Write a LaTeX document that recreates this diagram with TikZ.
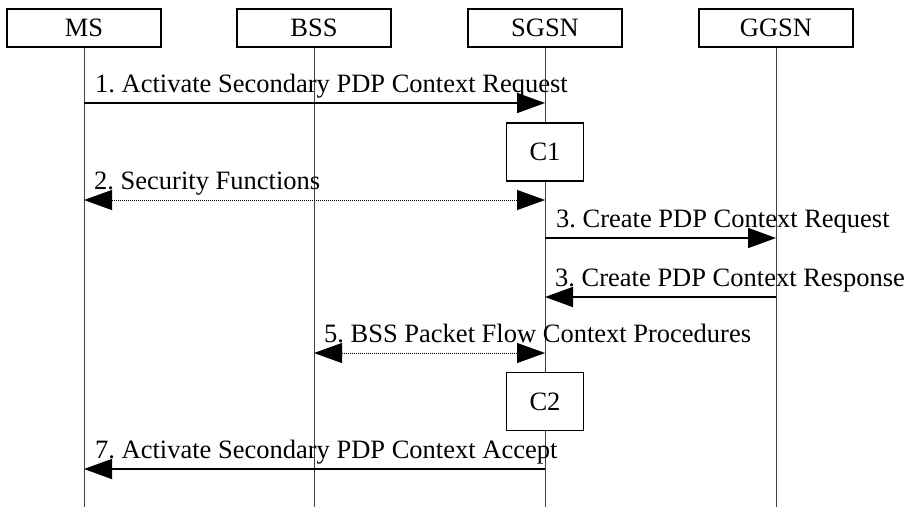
\documentclass[tikz,border=0pt]{standalone}
\usepackage{fontspec}
\setmainfont{Liberation Serif}
\usetikzlibrary{arrows.meta}
\frenchspacing
\begin{document}
\begin{tikzpicture}[x=1pt,y=-1pt,
  every node/.style={font=\fontsize{26.5}{30}\selectfont, inner sep=0pt},
  entity/.style={draw, line width=1.6pt, minimum width=154pt, minimum height=38pt, anchor=north, fill=white},
  proc/.style={draw, line width=1.4pt, minimum width=77pt, minimum height=58pt, fill=white},
  life/.style={line width=0.8pt, draw=black!75},
  msg/.style={line width=1.6pt, -{Triangle[length=28pt,width=20pt]}},
  dmsg/.style={line width=1pt, dash pattern=on 1pt off 1pt, {Triangle[length=28pt,width=20pt]}-{Triangle[length=28pt,width=20pt]}},
  lbl/.style={anchor=base west}]
\useasboundingbox (0,0) rectangle (909,507);
% lifelines
\coordinate (msb) at (84,507);
\coordinate (bssb) at (314,507);
\coordinate (sgsnb) at (545,507);
\coordinate (ggsnb) at (776,507);
\node[entity] (ms) at (84,8) {MS};
\node[entity] (bss) at (314,8) {BSS};
\node[entity] (sgsn) at (545,8) {SGSN};
\node[entity] (ggsn) at (776,8) {GGSN};
\draw[life] (ms.south) -- (msb);
\draw[life] (bss.south) -- (bssb);
\draw[life] (sgsn.south) -- (sgsnb);
\draw[life] (ggsn.south) -- (ggsnb);
% message endpoints
\coordinate (m1a) at (84,103);  \coordinate (m1b) at (545,103);
\coordinate (m2a) at (84,200);  \coordinate (m2b) at (545,200);
\coordinate (m3a) at (545,238); \coordinate (m3b) at (776,238);
\coordinate (m4a) at (776,297); \coordinate (m4b) at (545,297);
\coordinate (m5a) at (314,353); \coordinate (m5b) at (545,353);
\coordinate (m7a) at (545,469); \coordinate (m7b) at (84,469);
\draw[msg] (m1a) -- (m1b);
\node[lbl] (l1) at (95,92) {1. Activate Secondary PDP Context Request};
\node[proc] (c1) at (545,152) {C1};
\draw[dmsg] (m2a) -- (m2b);
\node[lbl] (l2) at (94,189) {2. Security Functions};
\draw[msg] (m3a) -- (m3b);
\node[lbl] (l3) at (556,227) {3. Create PDP Context Request};
\draw[msg] (m4a) -- (m4b);
\node[lbl] (l4) at (555,286) {3. Create PDP Context Response};
\draw[dmsg] (m5a) -- (m5b);
\node[lbl] (l5) at (324,342) {5. BSS Packet Flow Context Procedures};
\node[proc] (c2) at (545,401.5) {C2};
\draw[msg] (m7a) -- (m7b);
\node[lbl] (l7) at (95,458) {7. Activate Secondary PDP Context Accept};
\end{tikzpicture}
\end{document}
